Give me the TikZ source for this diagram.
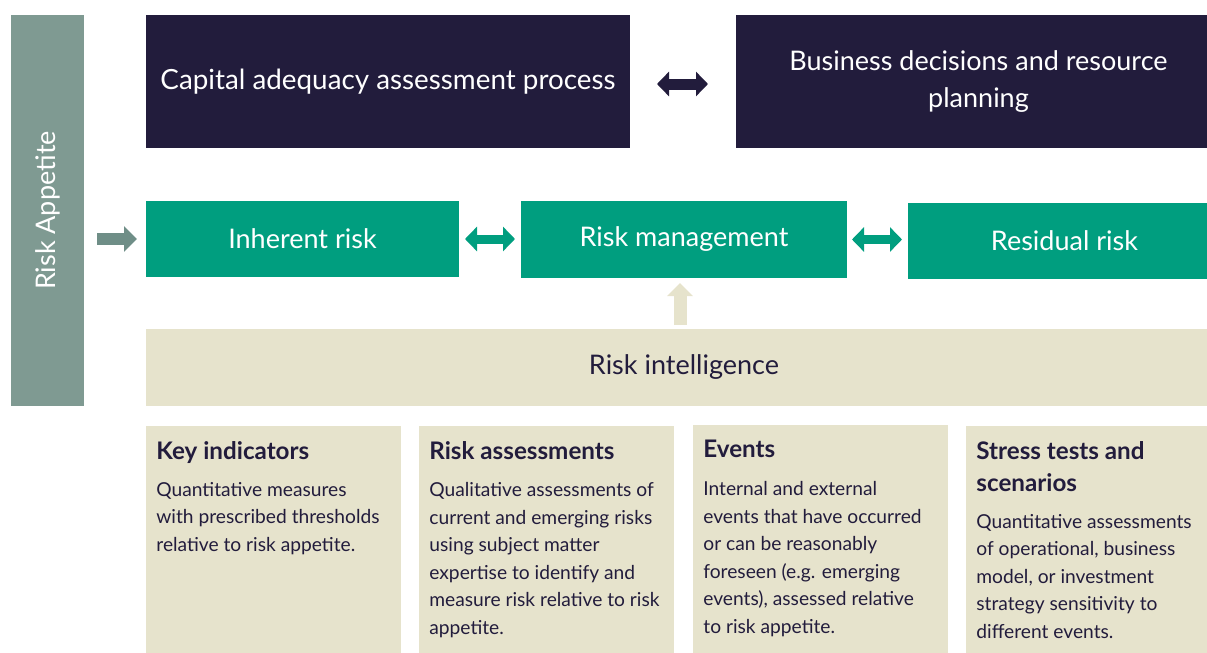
\documentclass[tikz,border=0pt]{standalone}
\usepackage{fontspec}
\setmainfont{Lato}
\usetikzlibrary{arrows.meta,positioning}

\definecolor{navy}{HTML}{221C3C}
\definecolor{riskgreen}{HTML}{009E7F}
\definecolor{sand}{HTML}{E6E3CC}
\definecolor{sage}{HTML}{7F9A92}
\definecolor{sagedark}{HTML}{6F8E87}

\def\u{0.5pt}
\def\boxfont{\fontsize{13.5}{18.5}\selectfont}
\def\headfont{\fontsize{12.1}{16}\selectfont\bfseries}
\def\bodyfont{\fontsize{9.6}{13.75}\selectfont}

\begin{document}
\begin{tikzpicture}[
    x=\u, y=-\u,
    block/.style={
      anchor=north west, inner sep=0pt, outer sep=0pt
    },
    darkbox/.style={
      block, fill=navy, text=white, font=\boxfont
    },
    greenbox/.style={
      block, fill=riskgreen, text=white, font=\boxfont
    },
    sandbox/.style={
      block, fill=sand
    },
    headtext/.style={
      anchor=north west, inner sep=0pt, text=navy, align=left, font=\headfont
    },
    bodytext/.style={
      anchor=north west, inner sep=0pt, text=navy, align=left, font=\bodyfont
    },
    twoway/.style={
      line width=#1*\u,
      {Triangle[length=12*\u,width=24*\u]}-{Triangle[length=12*\u,width=24*\u]}
    },
    oneway/.style={
      line width=#1*\u,
      -{Triangle[length=13*\u,width=25*\u]}
    }
  ]
    \useasboundingbox (0,0) rectangle (1207,653);

    \node[block, fill=sage, minimum width=73*\u, minimum height=391*\u] (appetite) at (11,15) {};
    \node[rotate=90, text=white, font=\boxfont] (appetitetext) at (appetite.center) {Risk Appetite};

    \node[darkbox, minimum width=484*\u, minimum height=133*\u, font=\fontsize{13.9}{18.5}\selectfont] (capital) at (146,15)
      {Capital adequacy assessment process};
    \node[darkbox, minimum width=471*\u, minimum height=133*\u] (business) at (736,15) {};
    \node[text=white, font=\boxfont, align=center] (businesstext) at ([xshift=3.5pt]business.center)
      {Business decisions and resource\\planning};

    \node[greenbox, minimum width=313*\u, minimum height=76*\u] (inherent) at (146,201) {Inherent risk};
    \node[greenbox, minimum width=326*\u, minimum height=77*\u] (riskmgmt) at (521,201) {Risk management};
    \node[greenbox, minimum width=299*\u, minimum height=76*\u] (residual) at (908,203) {};
    \node[text=white, font=\boxfont] (residualtext) at ([xshift=3.5pt]residual.center) {Residual risk};

    \node[sandbox, minimum width=1061*\u, minimum height=77*\u] (intel) at (146,329) {};
    \node[text=navy, font=\boxfont] (inteltext) at (intel.center -| riskmgmt.center) {Risk intelligence};

    \node[sandbox, minimum width=255*\u, minimum height=227*\u] (keyind) at (146,426) {};
    \node[sandbox, minimum width=255*\u, minimum height=227*\u] (riskass) at (419,426) {};
    \node[sandbox, minimum width=255*\u, minimum height=228*\u] (events) at (693,425) {};
    \node[sandbox, minimum width=241*\u, minimum height=227*\u] (stress) at (966,426) {};

    \node[headtext] (keyindhead) at ([shift={(10,15)}]keyind.north west) {Key indicators};
    \node[bodytext] (keyindbody) at ([shift={(10,56)}]keyind.north west)
      {Quantitative measures\\with prescribed thresholds\\relative to risk appetite.};

    \node[headtext] (riskasshead) at ([shift={(10,15)}]riskass.north west) {Risk assessments};
    \node[bodytext] (riskassbody) at ([shift={(10,56)}]riskass.north west)
      {Qualitative assessments of\\current and emerging risks\\using subject matter\\expertise to identify and\\measure risk relative to risk\\appetite.};

    \node[headtext] (eventshead) at ([shift={(10,15)}]events.north west) {Events};
    \node[bodytext] (eventsbody) at ([shift={(10,56)}]events.north west)
      {Internal and external\\events that have occurred\\or can be reasonably\\foreseen (e.g. emerging\\events), assessed relative\\to risk appetite.};

    \node[headtext] (stresshead) at ([shift={(10,15)}]stress.north west) {Stress tests and\\scenarios};
    \node[bodytext] (stressbody) at ([shift={(10,88)}]stress.north west)
      {Quantitative assessments\\of operational, business\\model, or investment\\strategy sensitivity to\\different events.};

    \draw[twoway=11, draw=navy, fill=navy, shorten <=27*\u, shorten >=28*\u]
      ([yshift=-1.25pt]capital.east) -- ([yshift=-1.25pt]capital.east -| business.west);
    \draw[twoway=9, draw=riskgreen, fill=riskgreen, shorten <=6*\u, shorten >=6*\u]
      (inherent.east) -- (inherent.east -| riskmgmt.west);
    \draw[twoway=9, draw=riskgreen, fill=riskgreen, shorten <=5*\u, shorten >=6*\u]
      (riskmgmt.east) -- (riskmgmt.east -| residual.west);
    \draw[oneway=12, draw=sagedark, fill=sagedark, shorten <=13*\u, shorten >=9*\u]
      (appetite.east |- inherent.west) -- (inherent.west);
    \draw[oneway=13, draw=sand, fill=sand, shorten <=4*\u, shorten >=5*\u]
      ([xshift=-2pt]riskmgmt.south |- intel.north) -- ([xshift=-2pt]riskmgmt.south);
\end{tikzpicture}
\end{document}
